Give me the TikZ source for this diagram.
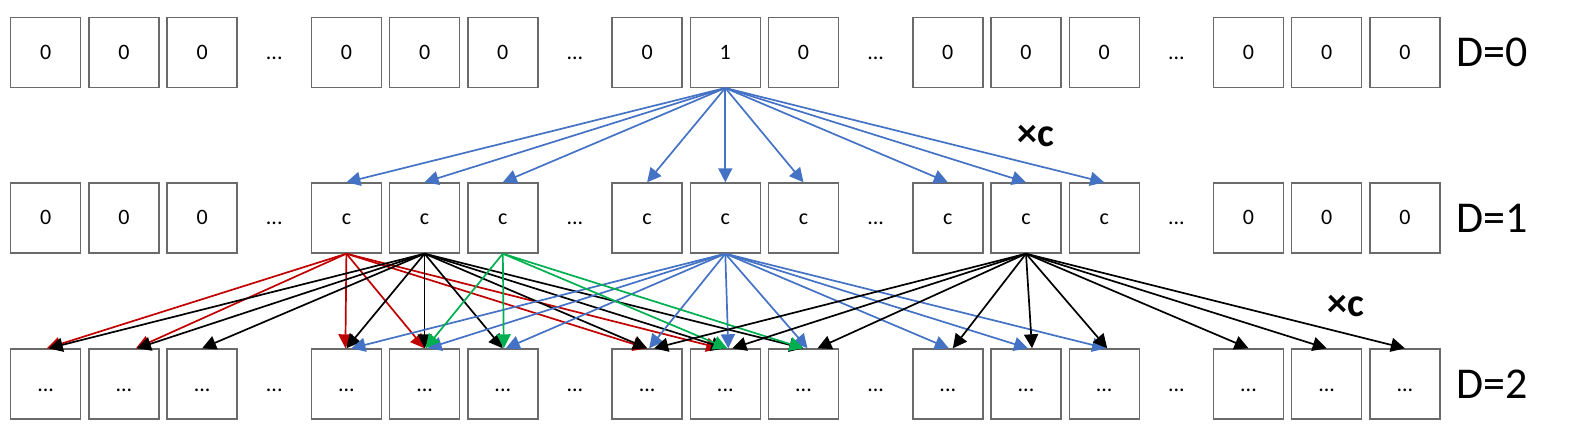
\documentclass[tikz,border=0pt]{standalone}
\usepackage{fontspec}
\setmainfont{Carlito}
\usetikzlibrary{arrows.meta}
\definecolor{oblue}{HTML}{4472C4}
\definecolor{ored}{HTML}{C00000}
\definecolor{ogreen}{HTML}{00B050}
\definecolor{boxgray}{HTML}{6A6A6A}
\begin{document}
\begin{tikzpicture}[x=1pt,y=-1pt,
  cell/.style={draw=boxgray,line width=1.4pt,minimum size=70pt,inner sep=0pt,
    font=\fontsize{22}{26}\selectfont,text height=14pt,text depth=0pt},
  gapdots/.style={font=\fontsize{22}{26}\selectfont,anchor=base,inner sep=0pt},
  dlabel/.style={font=\fontsize{44}{50}\selectfont,anchor=west,inner sep=0pt},
  timesc/.style={font=\bfseries\fontsize{40}{46}\selectfont,inner sep=0pt},
  arr/.style={line width=1.7pt,-{Triangle[length=14pt,width=14pt]}},
]
\useasboundingbox (0,0) rectangle (1569,446);
% cells
\foreach \i in {0,...,14} {
  \pgfmathtruncatemacro\g{int(\i/3)}
  \pgfmathsetmacro\xx{45.7+300.7*\g+78.2*(\i-3*\g)}
  \node[cell] (r0b\i) at (\xx,52.3) {\ifnum\i=7 1\else 0\fi};
  \node[cell] (r1b\i) at (\xx,218) {\ifnum\i<3 0\else\ifnum\i>11 0\else c\fi\fi};
  \node[cell] (r2b\i) at (\xx,384) {...};
}
% gap dots
\foreach \g in {0,...,3} {
  \pgfmathsetmacro\gx{274.25+300.7*\g}
  \node[gapdots] (d0g\g) at (\gx,59.3) {...};
  \node[gapdots] (d1g\g) at (\gx,225) {...};
  \node[gapdots] (d2g\g) at (\gx,391) {...};
}
% row labels
\node[dlabel] (L0) at (1456,52.3) {D=0};
\node[dlabel] (L1) at (1456,218) {D=1};
\node[dlabel] (L2) at (1456,384) {D=2};
% multipliers
\node[timesc] (m1) at (1036,136) {×c};
\node[timesc] (m2) at (1346,306) {×c};
% row 0 -> row 1
\foreach \t in {3,...,11}
  \draw[arr,oblue] (r0b7.south) -- (r1b\t.north);
% row 1 -> row 2
\foreach \t/\o in {0/1,1/12,3/-1,4/0,6/0,7/-5}
  \draw[arr,ored] (r1b3.south) -- ([xshift=\o pt]r2b\t.north);
\foreach \t/\o in {0/3,1/13,2/0,3/0,4/0,5/0,6/0,7/0,8/0}
  \draw[arr,black] (r1b4.south) -- ([xshift=\o pt]r2b\t.north);
\foreach \t/\o in {3/5,4/3,5/3,6/2,7/3,8/4,9/1,10/2,11/2}
  \draw[arr,oblue] (r1b7.south) -- ([xshift=\o pt]r2b\t.north);
\foreach \t/\o in {4/1,5/1,7/2,8/0}
  \draw[arr,ogreen] (r1b5.south) -- ([xshift=\o pt]r2b\t.north);
\foreach \t/\o in {6/7,7/7,8/14,9/5,10/6,11/3,12/0,13/0,14/0}
  \draw[arr,black] (r1b10.south) -- ([xshift=\o pt]r2b\t.north);
\end{tikzpicture}
\end{document}
